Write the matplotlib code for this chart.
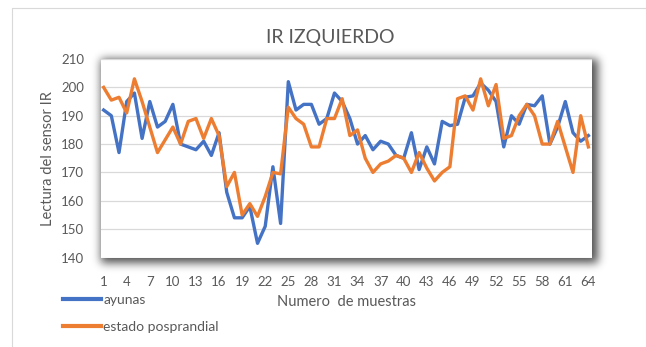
import numpy as np
import matplotlib
matplotlib.use("Agg")
import matplotlib.pyplot as plt
from matplotlib.patches import Rectangle

#=============================================================================
#                           data
#=============================================================================
muestras = np.arange(1, 65)

ayunas = [192, 190, 177, 195, 198, 182, 195, 186, 188, 194,
          180, 179, 178, 181, 176, 184, 163, 154, 154, 158,
          145, 151, 172, 152, 202, 192, 194, 194, 187, 189,
          198, 195, 189, 180, 183, 178, 181, 180, 176, 175,
          184, 171, 179, 173, 188, 186.5, 187, 196.5, 197, 201.5,
          199, 195, 179, 190, 187, 194, 193.5, 197, 180, 186,
          195, 184, 181, 183]

posprandial = [200, 195.5, 196.5, 191, 203, 195, 186, 177, 181.5, 186,
               180, 188, 189, 182, 189, 183, 165, 170, 155, 159,
               154.5, 161.5, 170, 169.5, 193, 189, 187, 179, 179, 189,
               189, 196, 183, 185, 175, 170, 173, 174, 176, 175,
               170, 177, 171.5, 167, 170, 172, 196, 197, 192, 203,
               193.5, 201, 182, 183, 190, 194, 190, 180, 180, 188,
               179, 170, 190, 179]

xticks = list(range(1, 65, 3))
yticks = list(range(140, 211, 10))

#=============================================================================
#                           layout (pixels)
#=============================================================================
W, H = 646, 347
ax_l, ax_r, ax_t, ax_b = 100.7, 591.7, 59.0, 257.5

plt.rcParams['font.family'] = ['Lato', 'DejaVu Sans']
gris = '#595959'

fig = plt.figure(figsize=(W / 100, H / 100), dpi=100)
fig.patch.set_facecolor('white')

# background layer: chart border + soft drop shadow behind the plot area
bg = fig.add_axes([0, 0, 1, 1], zorder=0)
bg.set_xlim(0, W)
bg.set_ylim(H, 0)
bg.axis('off')

def blur(img, sigma):
    r = int(3 * sigma)
    k = np.exp(-0.5 * (np.arange(-r, r + 1) / sigma) ** 2)
    k /= k.sum()
    img = np.apply_along_axis(lambda m: np.convolve(m, k, mode='same'), 0, img)
    img = np.apply_along_axis(lambda m: np.convolve(m, k, mode='same'), 1, img)
    return img

mask = np.zeros((H, W))
dx, dy, grow = 4, 3, 3
mask[int(ax_t + dy - grow):int(ax_b + dy + grow),
     int(ax_l + dx - grow):int(ax_r + dx + grow)] = 1.0
alpha = blur(mask, 4.5) * 0.68
shadow = np.zeros((H, W, 4))
shadow[..., 3] = alpha
bg.imshow(shadow, extent=(0, W, H, 0), aspect='auto', interpolation='bilinear')
bg.add_patch(Rectangle((11.5, 7.5), 800, 500, fill=False, ec='#d9d9d9', lw=0.8))

#=============================================================================
#                           plot
#=============================================================================
ax = fig.add_axes([ax_l / W, 1 - ax_b / H, (ax_r - ax_l) / W, (ax_b - ax_t) / H],
                  zorder=1)
ax.set_facecolor('white')
l1, = ax.plot(muestras, ayunas, color='#4472C4', lw=2.4, solid_joinstyle='round')
l2, = ax.plot(muestras, posprandial, color='#ED7D31', lw=2.4, solid_joinstyle='round')

ax.set_xlim(0.62, 64.43)
ax.set_ylim(140, 210)
ax.set_xticks(xticks)
ax.set_yticks(yticks)
ax.grid(axis='y', color='#d9d9d9', lw=0.9)
ax.set_axisbelow(True)
for s in ax.spines.values():
    s.set_visible(False)
ax.tick_params(length=0, labelsize=9.5, labelcolor=gris)
ax.tick_params(axis='x', pad=13)
ax.tick_params(axis='y', pad=12)

ax.set_ylabel('Lectura del sensor IR', fontsize=10.5, color=gris, va='center')
ax.yaxis.set_label_coords((48 - ax_l) / (ax_r - ax_l), 0.5)
ax.set_xlabel('Numero  de muestras', fontsize=10.5, color=gris, va='center')
ax.xaxis.set_label_coords(0.5, (ax_b - 302) / (ax_b - ax_t))

fig.text(330 / W, 1 - 37 / H, 'IR IZQUIERDO', fontsize=14, color=gris,
         ha='center', va='center')

leg = fig.legend([l1, l2], ['ayunas', 'estado posprandial'],
                 loc='upper left', bbox_to_anchor=(63 / W, 1 - 294 / H),
                 frameon=False, fontsize=10, labelcolor=gris,
                 handlelength=2.7, handletextpad=0.2, labelspacing=1.05,
                 borderpad=0, borderaxespad=0)
for h in leg.get_lines():
    h.set_linewidth(3)

fig.savefig('out.png', dpi=100, facecolor='white')
